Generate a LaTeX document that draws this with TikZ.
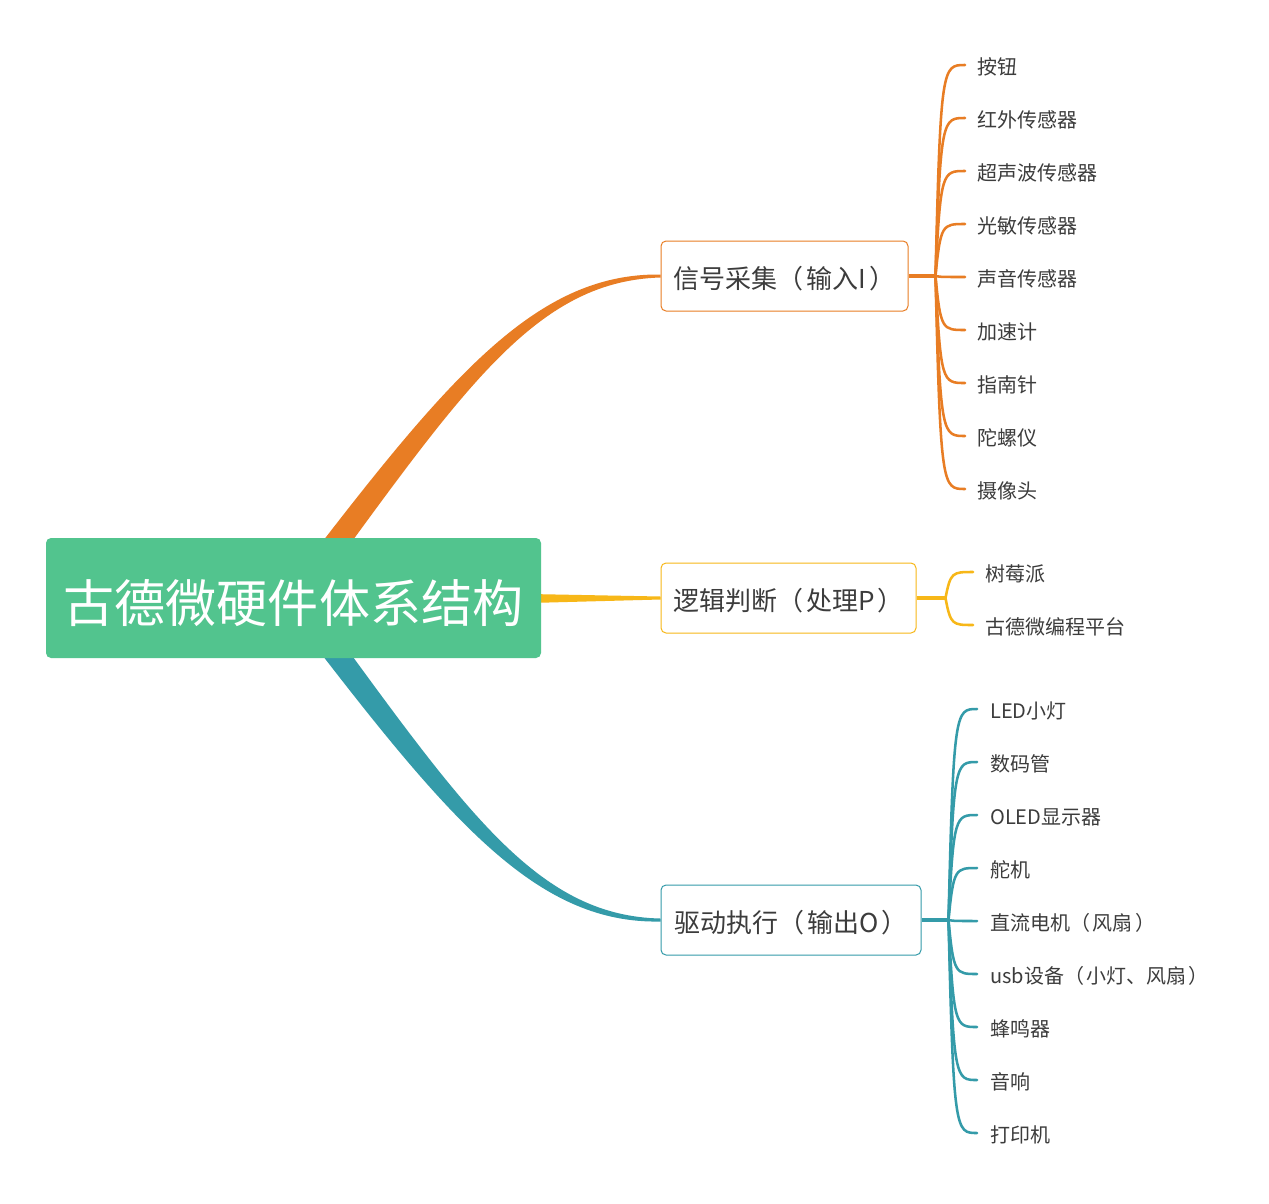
\documentclass[tikz,border=0pt]{standalone}
\usepackage{fontspec}
\setmainfont{Noto Sans CJK SC}
\usetikzlibrary{calc,backgrounds}
\definecolor{cgreen}{RGB}{82,196,142}
\definecolor{corange}{RGB}{232,125,36}
\definecolor{cyellow}{RGB}{247,183,24}
\definecolor{cteal}{RGB}{52,155,169}
\definecolor{ctext}{RGB}{60,60,60}
\newcommand{\lp}{（\hspace{0.12em}}
\newcommand{\rp}{\hspace{0.12em}）}
\begin{document}
\begin{tikzpicture}[x=0.75pt,y=-0.75pt,
  topic/.style={draw, line width=0.75pt, rounded corners=3.75pt, fill=white,
    minimum height=52.5pt, inner sep=0pt, font=\fontsize{19.5}{22}\selectfont, text=ctext,
    text height=19pt, text depth=0.4pt},
  leaf/.style={anchor=west, inner sep=0pt, font=\fontsize{15}{18}\selectfont,
    text=ctext, text height=13.2pt, text depth=1.8pt},
  hubline/.style={line width=3pt},
  branch/.style={line width=1.9pt, line cap=round},
]
\useasboundingbox (0,0) rectangle (1269,1203);

% root
\node[fill=cgreen, rounded corners=3.75pt, minimum width=371.25pt, minimum height=90pt,
  inner sep=0pt, text=white, font=\fontsize{38.3}{40}\selectfont,
  text height=38pt, text depth=1.3pt] (root) at (293.5,598) {古德微硬件体系结构};

% topics
\node[topic, draw=corange, minimum width=185.25pt] (n1) at (784.5,276) {信号采集\lp 输入I\rp};
\node[topic, draw=cyellow, minimum width=191.25pt] (n2) at (788.5,598) {逻辑判断\lp 处理P\rp};
\node[topic, draw=cteal, minimum width=195pt] (n3) at (791,920) {驱动执行\lp 输出O\rp};

\begin{scope}[on background layer]
\fill[white] (0,0) rectangle (1269,1203);
% tapered main branches
\fill[corange] ($(n1.west)+(0,-1.5)$) .. controls (541,273) and (455.8,368.6) .. (315.4,550.8)
  -- (334.6,565.2) .. controls (470.2,379.4) and (541,281) .. ($(n1.west)+(0,1.5)$) -- cycle;
\fill[cteal] ($(n3.west)+(0,1.5)$) .. controls (541,924) and (455.8,828.4) .. (315.4,646.2)
  -- (334.6,631.8) .. controls (470.2,817.6) and (541,916) .. ($(n3.west)+(0,-1.5)$) -- cycle;
\fill[cyellow] (530,594) -- ($(n2.west)+(0,-1.5)$) -- ($(n2.west)+(0,1.5)$) -- (530,603) -- cycle;
\end{scope}

% hubs
\coordinate (h1) at ($(n1.east)+(27,0)$);
\coordinate (h1a) at ($(h1)+(5,0)$);
\coordinate (h1b) at ($(h1)+(7,0)$);
\coordinate (h2) at ($(n2.east)+(29,0)$);
\coordinate (h2a) at ($(h2)+(5,0)$);
\coordinate (h2b) at ($(h2)+(7,0)$);
\coordinate (h3) at ($(n3.east)+(27,0)$);
\coordinate (h3a) at ($(h3)+(5,0)$);
\coordinate (h3b) at ($(h3)+(7,0)$);
\draw[corange, hubline] (n1.east) -- (h1);
\draw[cyellow, hubline] (n2.east) -- (h2);
\draw[cteal, hubline] (n3.east) -- (h3);

\foreach \i/\t/\y in {1/按钮/67, 2/红外传感器/120, 3/超声波传感器/173, 4/光敏传感器/226,
  5/声音传感器/279, 6/加速计/332, 7/指南针/385, 8/陀螺仪/438, 9/摄像头/491}{
  \node[leaf] (a\i) at (977,\y) {\t};
  \coordinate (ae\i) at ($(a\i.west)+(-12,-2)$);
  \draw[corange, branch] (h1) .. controls (h1a |- ae\i) and (h1b |- ae\i) .. (ae\i);
}

\foreach \i/\t/\y in {1/树莓派/574, 2/古德微编程平台/627}{
  \node[leaf] (b\i) at (985,\y) {\t};
  \coordinate (be\i) at ($(b\i.west)+(-12,-2)$);
  \draw[cyellow, branch] (h2) .. controls (h2a |- be\i) and (h2b |- be\i) .. (be\i);
}

\foreach \i/\t/\y in {1/LED小灯/711, 2/数码管/764, 3/OLED显示器/817, 4/舵机/870,
  5/直流电机\lp 风扇\rp/923, 6/usb设备\lp 小灯、风扇\rp/976, 7/蜂鸣器/1029, 8/音响/1082, 9/打印机/1135}{
  \node[leaf] (c\i) at (990,\y) {\t};
  \coordinate (ce\i) at ($(c\i.west)+(-13,-2)$);
  \draw[cteal, branch] (h3) .. controls (h3a |- ce\i) and (h3b |- ce\i) .. (ce\i);
}
\end{tikzpicture}
\end{document}
